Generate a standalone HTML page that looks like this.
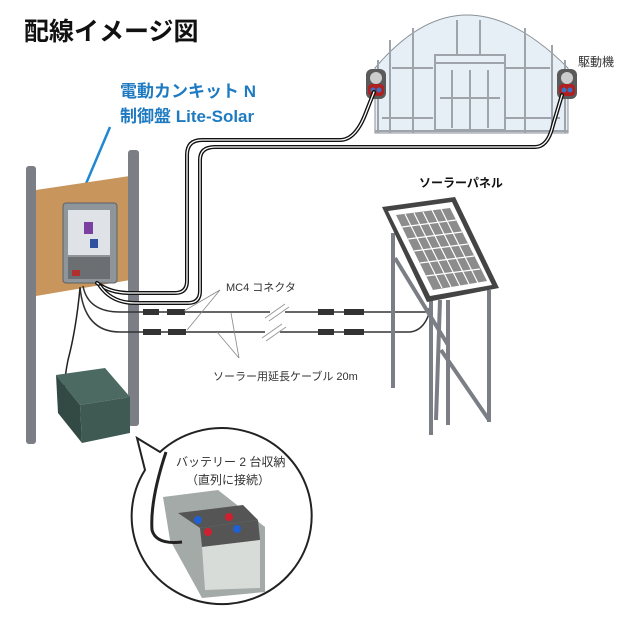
<!DOCTYPE html>
<html><head><meta charset="utf-8"><style>
html,body{margin:0;padding:0;background:#fff}
svg{display:block}
text{font-family:"Liberation Sans","Noto Sans CJK JP",sans-serif}
</style></head><body>
<svg width="640" height="625" viewBox="0 0 640 625" xmlns="http://www.w3.org/2000/svg">
<rect width="640" height="625" fill="#fff"/>
<text x="24" y="40" font-size="25" font-weight="bold" fill="#111">配線イメージ図</text>
<text x="120" y="97" font-size="17" font-weight="bold" fill="#1f7bc1">電動カンキット N</text>
<text x="120" y="122" font-size="17" font-weight="bold" fill="#1f7bc1">制御盤 Lite-Solar</text>
<line x1="110" y1="127" x2="77" y2="205" stroke="#1f88d0" stroke-width="2.5"/>

<!-- greenhouse -->
<path d="M375,133 L375,68 Q420,15 467,15 Q515,15 568,68 L568,133 Z" fill="#e6eff5" stroke="#8a9298" stroke-width="1"/>
<g stroke="#9ea4a9" stroke-width="2" fill="none">
<line x1="378" y1="60" x2="378" y2="133"/><line x1="565" y1="60" x2="565" y2="133"/>
<line x1="390" y1="40" x2="390" y2="133"/><line x1="413" y1="28" x2="413" y2="133"/>
<line x1="457" y1="20" x2="457" y2="55"/><line x1="480" y1="20" x2="480" y2="55"/>
<line x1="525" y1="28" x2="525" y2="133"/><line x1="552" y1="45" x2="552" y2="133"/>
<line x1="392" y1="68" x2="433" y2="68"/><line x1="506" y1="68" x2="550" y2="68"/>
<line x1="382" y1="118" x2="433" y2="118"/><line x1="506" y1="118" x2="560" y2="118"/>
<rect x="435" y="55" width="70" height="75"/>
<line x1="435" y1="63" x2="505" y2="63"/><line x1="470" y1="70" x2="470" y2="130"/>
<line x1="440" y1="98" x2="500" y2="98"/><line x1="452" y1="70" x2="452" y2="128"/><line x1="488" y1="70" x2="488" y2="128"/>
<line x1="375" y1="131" x2="568" y2="131"/>
</g>
<!-- drivers -->
<g>
<rect x="366" y="69" width="20" height="30" rx="6" fill="#5a5a5a"/><circle cx="376" cy="78" r="6" fill="#ccc"/><rect x="368" y="84" width="16" height="12" rx="4" fill="#b02020"/><circle cx="373" cy="90" r="2.5" fill="#3b6fc0"/><circle cx="379" cy="90" r="2.5" fill="#3b6fc0"/>
<rect x="557" y="69" width="20" height="30" rx="6" fill="#5a5a5a"/><circle cx="567" cy="78" r="6" fill="#ccc"/><rect x="559" y="84" width="16" height="12" rx="4" fill="#b02020"/><circle cx="564" cy="90" r="2.5" fill="#3b6fc0"/><circle cx="570" cy="90" r="2.5" fill="#3b6fc0"/>
</g>
<text x="578" y="66" font-size="12" fill="#333">駆動機</text>

<!-- posts and board -->
<rect x="26" y="166" width="10" height="278" rx="3" fill="#7b7f85"/>
<polygon points="36,190 130,176 130,280 36,296" fill="#c8955c"/>
<rect x="128" y="150" width="11" height="276" rx="3" fill="#7b7f85"/>

<!-- control box -->
<rect x="63" y="203" width="54" height="80" rx="3" fill="#8e969c" stroke="#5c6266"/>
<rect x="68" y="210" width="42" height="45" fill="#dfe3e8"/>
<rect x="84" y="222" width="9" height="12" fill="#7a3fa0"/>
<rect x="90" y="239" width="8" height="9" fill="#3050a0"/>
<rect x="68" y="257" width="42" height="22" fill="#6b6f72"/>
<rect x="72" y="270" width="8" height="6" fill="#b03030"/>

<!-- cables to greenhouse -->
<g fill="none" stroke-linecap="round">
<path d="M97,283 Q110,293 130,293 L175,293 Q187,293 187,281 L187,155 Q187,140 202,140 L340,140 Q355,140 365,115 L374,92" stroke="#111" stroke-width="4"/>
<path d="M97,283 Q110,293 130,293 L175,293 Q187,293 187,281 L187,155 Q187,140 202,140 L340,140 Q355,140 365,115 L374,92" stroke="#fff" stroke-width="1.3"/>
<path d="M100,286 Q112,303 135,303 L188,303 Q200,303 200,291 L200,160 Q200,147 215,147 L535,147 Q548,147 553,125 L562,95" stroke="#111" stroke-width="4"/>
<path d="M100,286 Q112,303 135,303 L188,303 Q200,303 200,291 L200,160 Q200,147 215,147 L535,147 Q548,147 553,125 L562,95" stroke="#fff" stroke-width="1.3"/>
</g>

<!-- solar cables -->
<g fill="none" stroke="#333" stroke-width="1.5">
<path d="M83,286 Q88,312 120,312 L270,312"/><path d="M285,312 L425,312 Q432,310 430,298"/>
<path d="M80,287 Q84,332 120,332 L265,332"/><path d="M280,332 L410,332 Q428,330 432,300"/>
<path d="M80,288 Q76,330 68,360 Q60,400 70,413" stroke="#222"/>
</g>
<g stroke="#999" stroke-width="1">
<line x1="265" y1="318" x2="285" y2="304"/><line x1="269" y1="321" x2="289" y2="307"/>
<line x1="262" y1="338" x2="282" y2="324"/><line x1="266" y1="341" x2="286" y2="327"/>
</g>
<g fill="#333">
<rect x="143" y="309" width="16" height="6"/><rect x="167" y="309" width="18" height="6"/>
<rect x="143" y="329" width="18" height="6"/><rect x="168" y="329" width="18" height="6"/>
<rect x="318" y="309" width="16" height="6"/><rect x="344" y="309" width="20" height="6"/>
<rect x="318" y="329" width="16" height="6"/><rect x="344" y="329" width="20" height="6"/>
</g>
<g stroke="#888" stroke-width="0.8">
<line x1="220" y1="290" x2="184" y2="311"/><line x1="220" y1="290" x2="187" y2="330"/>
<line x1="239" y1="358" x2="231" y2="313"/><line x1="239" y1="358" x2="217" y2="332"/>
</g>
<text x="226" y="291" font-size="11" fill="#333">MC4 コネクタ</text>
<text x="213" y="380" font-size="11" fill="#333">ソーラー用延長ケーブル 20m</text>

<!-- battery box -->
<polygon points="56,375 105,368 130,397 80,405" fill="#4c6a62"/>
<polygon points="56,375 80,405 82,443 58,413" fill="#334a44"/>
<polygon points="80,405 130,397 130,433 82,443" fill="#3e5a53"/>

<!-- solar panel stand -->
<g stroke="#7b7f85" stroke-width="4" fill="none">
<line x1="393" y1="233" x2="393" y2="388"/>
<line x1="431" y1="300" x2="431" y2="435"/>
<line x1="448" y1="300" x2="448" y2="425"/>
<line x1="489" y1="290" x2="489" y2="422"/>
<line x1="395" y1="258" x2="448" y2="345"/>
<line x1="440" y1="300" x2="436" y2="420"/>
<line x1="441" y1="350" x2="489" y2="420"/>
</g>
<polygon points="382,207 455,197 499,288 427,302" fill="#444"/>
<polygon points="388,211 452,202 492,285 430,296" fill="#fff"/>
<polygon points="396,215 450,208 487,281 433,290" fill="#8c8c8c"/>
<g stroke="#fff" stroke-width="1.2">
<line x1="405" y1="214" x2="442" y2="288"/><line x1="414" y1="213" x2="451" y2="287"/>
<line x1="423" y1="212" x2="460" y2="286"/><line x1="432" y1="210" x2="469" y2="284"/>
<line x1="441" y1="209" x2="478" y2="283"/>
<line x1="402" y1="227" x2="456" y2="220"/><line x1="408" y1="239" x2="462" y2="232"/>
<line x1="414" y1="251" x2="468" y2="244"/><line x1="420" y1="263" x2="474" y2="256"/>
<line x1="426" y1="276" x2="480" y2="269"/>
</g>
<text x="419" y="187" font-size="12" font-weight="bold" fill="#111">ソーラーパネル</text>

<!-- bubble -->
<path d="M160,452 A90,88 0 1 1 145,470 L137,438 Z" fill="#fff" stroke="#222" stroke-width="2"/>
<text x="176" y="466" font-size="12" fill="#333">バッテリー 2 台収納</text>
<text x="186" y="484" font-size="12" fill="#333">（直列に接続）</text>
<polygon points="163,497 218,490 265,527 265,592 202,598 170,540" fill="#a4aaa8"/>
<polygon points="178,513 243,505 258,520 200,528" fill="#555"/>
<polygon points="200,528 258,520 260,540 202,547" fill="#555"/>
<polygon points="202,547 260,540 260,588 205,590" fill="#d8dcd8"/>
<circle cx="198" cy="520" r="4" fill="#2060d0"/><circle cx="229" cy="517" r="4" fill="#d02030"/>
<circle cx="208" cy="532" r="4" fill="#d02030"/><circle cx="237" cy="529" r="4" fill="#2060d0"/>
<path d="M166,452 Q150,500 152,530 Q156,545 182,542" fill="none" stroke="#222" stroke-width="3"/>
</svg>
</body></html>
